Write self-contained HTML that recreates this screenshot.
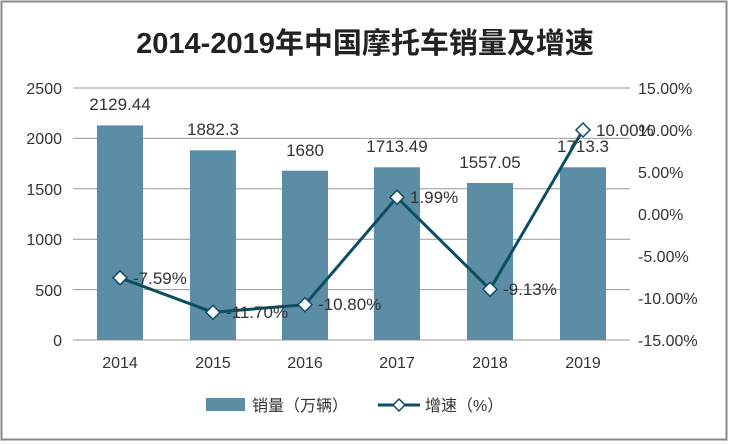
<!DOCTYPE html><html><head><meta charset="utf-8"><style>body{margin:0;background:#fff}svg{display:block;font-family:"Liberation Sans","Noto Sans CJK SC",sans-serif}</style></head><body>
<svg width="730" height="444" viewBox="0 0 730 444">
<rect x="1.5" y="1.5" width="725" height="438" fill="#fff" stroke="#888" stroke-width="2"/>
<text x="365" y="53" text-anchor="middle" font-size="29" font-weight="bold" fill="#222">2014-2019年中国摩托车销量及增速</text>
<g stroke="#999" stroke-width="1">
<line x1="73" y1="88" x2="630" y2="88"/><line x1="73" y1="138.4" x2="630" y2="138.4"/><line x1="73" y1="188.8" x2="630" y2="188.8"/><line x1="73" y1="239.2" x2="630" y2="239.2"/><line x1="73" y1="289.6" x2="630" y2="289.6"/><line x1="73" y1="340" x2="630" y2="340"/></g>
<g fill="#5b8ea6">
<rect x="97" y="125.4" width="46" height="214.6"/><rect x="190" y="150.3" width="46" height="189.7"/><rect x="282" y="170.7" width="46" height="169.3"/><rect x="374" y="167.3" width="46" height="172.7"/><rect x="467" y="183" width="46" height="157"/><rect x="560" y="167.3" width="46" height="172.7"/></g>
<g font-size="16" fill="#333" text-anchor="end">
<text x="62" y="94">2500</text><text x="62" y="144">2000</text><text x="62" y="195">1500</text><text x="62" y="245">1000</text><text x="62" y="296">500</text><text x="62" y="346">0</text></g>
<g font-size="16" fill="#333">
<text x="638" y="94">15.00%</text><text x="638" y="136">10.00%</text><text x="638" y="178">5.00%</text><text x="638" y="220">0.00%</text><text x="638" y="262">-5.00%</text><text x="638" y="304">-10.00%</text><text x="638" y="346">-15.00%</text></g>
<g font-size="16" fill="#333" text-anchor="middle">
<text x="120" y="368">2014</text><text x="213" y="368">2015</text><text x="305" y="368">2016</text><text x="397" y="368">2017</text><text x="490" y="368">2018</text><text x="583" y="368">2019</text></g>
<g font-size="17" fill="#333" text-anchor="middle">
<text x="120" y="110">2129.44</text><text x="213" y="135">1882.3</text><text x="305" y="156">1680</text><text x="397" y="152">1713.49</text><text x="490" y="168">1557.05</text><text x="583" y="152">1713.3</text></g>
<polyline points="120,277.8 213,312.3 305,304.7 397,197.3 490,289.3 583,130" fill="none" stroke="#0e4d61" stroke-width="3"/>
<g fill="#fff" stroke="#0e4d61" stroke-width="1.5">
<path d="M120,270.8l7,7l-7,7l-7,-7z"/><path d="M213,305.3l7,7l-7,7l-7,-7z"/><path d="M305,297.7l7,7l-7,7l-7,-7z"/><path d="M397,190.3l7,7l-7,7l-7,-7z"/><path d="M490,282.3l7,7l-7,7l-7,-7z"/><path d="M583,123l7,7l-7,7l-7,-7z"/></g>
<g font-size="17" fill="#333">
<text x="133" y="284">-7.59%</text><text x="226" y="318">-11.70%</text><text x="318" y="310">-10.80%</text><text x="410" y="203">1.99%</text><text x="503" y="295">-9.13%</text><text x="596" y="136">10.00%</text></g>
<rect x="206" y="398" width="39" height="13" fill="#5b8ea6"/>
<text x="252" y="411" font-size="16" fill="#333">销量（万辆）</text>
<line x1="378" y1="405" x2="420" y2="405" stroke="#0e4d61" stroke-width="3"/>
<path d="M399,399l6,6l-6,6l-6,-6z" fill="#fff" stroke="#0e4d61" stroke-width="1.5"/>
<text x="425" y="411" font-size="16" fill="#333">增速（%）</text>
</svg></body></html>
